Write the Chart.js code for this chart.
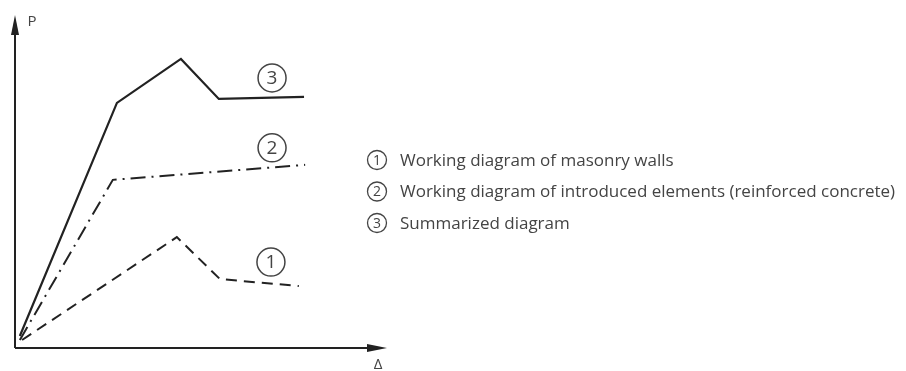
<!DOCTYPE html>
<html lang="en">
<head>
<meta charset="utf-8">
<title>P - Δ working diagrams</title>
<script src="https://cdn.jsdelivr.net/npm/chart.js@4.4.1/dist/chart.umd.min.js"></script>
<style>
  html, body { margin: 0; padding: 0; background: #fff; }
  #wrap { position: relative; width: 906px; height: 371px; }
</style>
</head>
<body>
<div id="wrap"><canvas id="diag"></canvas></div>
<script>
// values in arbitrary units, axes run 0..100
const wallsX = [1.9, 43.5, 55.1, 76.3];
const wallsY = [2.4, 33.3, 20.7, 18.6];
const rcX = [1.3, 26.3, 78.0];
const rcY = [2.4, 50.5, 55.0];
const sumX = [1.3, 27.4, 44.6, 54.8, 77.7];
const sumY = [3.6, 73.6, 86.8, 74.8, 75.4];

// circled numbers next to the curves
const markNums = ['1', '2', '3'];
const markX = [68.8, 69.1, 69.1];
const markY = [25.8, 60.1, 81.1];

const legendNums = ['1', '2', '3'];
const legendTexts = [
  'Working diagram of masonry walls',
  'Working diagram of introduced elements (reinforced concrete)',
  'Summarized diagram'
];
const axisLabels = ['Δ', 'P'];

const ink = '#222';
const font = '"Open Sans", "Noto Sans", sans-serif';

function pts(xs, ys) { return xs.map((x, i) => ({x: x, y: ys[i]})); }

const axesPlugin = {
  id: 'axes',
  beforeDatasetsDraw(chart) {
    const ctx = chart.ctx, a = chart.chartArea;
    ctx.save();
    ctx.strokeStyle = ink;
    ctx.fillStyle = ink;
    ctx.lineWidth = 2;
    ctx.beginPath();
    ctx.moveTo(a.left, a.bottom);
    ctx.lineTo(a.left, a.top + 10);
    ctx.moveTo(a.left, a.bottom);
    ctx.lineTo(a.right - 10, a.bottom);
    ctx.stroke();
    // arrow heads
    ctx.beginPath();
    ctx.moveTo(a.left, a.top);
    ctx.lineTo(a.left - 4, a.top + 20);
    ctx.lineTo(a.left + 4, a.top + 20);
    ctx.closePath();
    ctx.fill();
    ctx.beginPath();
    ctx.moveTo(a.right, a.bottom);
    ctx.lineTo(a.right - 20, a.bottom - 4);
    ctx.lineTo(a.right - 20, a.bottom + 4);
    ctx.closePath();
    ctx.fill();
    ctx.fillStyle = '#444';
    ctx.font = '15px ' + font;
    ctx.textAlign = 'center';
    ctx.textBaseline = 'middle';
    ctx.fillText(axisLabels[1], a.left + 17, a.top + 7);
    ctx.fillText(axisLabels[0], a.right - 9, a.bottom + 17);
    ctx.restore();
  }
};

function circled(ctx, cx, cy, r, txt, size) {
  ctx.beginPath();
  ctx.arc(cx, cy, r, 0, Math.PI * 2);
  ctx.stroke();
  ctx.font = size + 'px ' + font;
  ctx.textAlign = 'center';
  ctx.textBaseline = 'middle';
  ctx.fillText(txt, cx, cy + 1);
}

const labelPlugin = {
  id: 'labels',
  afterDraw(chart) {
    const ctx = chart.ctx;
    const xs = chart.scales.x, ys = chart.scales.y;
    ctx.save();
    ctx.strokeStyle = '#444';
    ctx.fillStyle = '#444';
    ctx.lineWidth = 1.5;
    markNums.forEach((n, i) => {
      circled(ctx, xs.getPixelForValue(markX[i]), ys.getPixelForValue(markY[i]), 14, n, 19);
    });
    // legend
    legendNums.forEach((n, i) => {
      const cy = 160 + i * 31.5;
      ctx.lineWidth = 1.3;
      circled(ctx, 377, cy, 9.5, n, 14);
      ctx.font = '17px ' + font;
      ctx.textAlign = 'left';
      ctx.fillText(legendTexts[i], 400, cy + 1);
    });
    ctx.restore();
  }
};

new Chart(document.getElementById('diag'), {
  type: 'line',
  data: {
    datasets: [
      {
        label: legendTexts[0],
        data: pts(wallsX, wallsY),
        borderColor: ink,
        borderWidth: 2,
        borderDash: [11, 7],
        pointRadius: 0,
        tension: 0
      },
      {
        label: legendTexts[1],
        data: pts(rcX, rcY),
        borderColor: ink,
        borderWidth: 2,
        borderDash: [15, 6, 2, 6],
        pointRadius: 0,
        tension: 0
      },
      {
        label: legendTexts[2],
        data: pts(sumX, sumY),
        borderColor: ink,
        borderWidth: 2.2,
        pointRadius: 0,
        tension: 0
      }
    ]
  },
  options: {
    responsive: true,
    maintainAspectRatio: false,
    animation: false,
    events: [],
    layout: { padding: { left: 15, top: 15, right: 519, bottom: 23 } },
    scales: {
      x: { type: 'linear', min: 0, max: 100, display: false },
      y: { type: 'linear', min: 0, max: 100, display: false }
    },
    plugins: {
      legend: { display: false },
      tooltip: { enabled: false }
    }
  },
  plugins: [axesPlugin, labelPlugin]
});
</script>
</body>
</html>
